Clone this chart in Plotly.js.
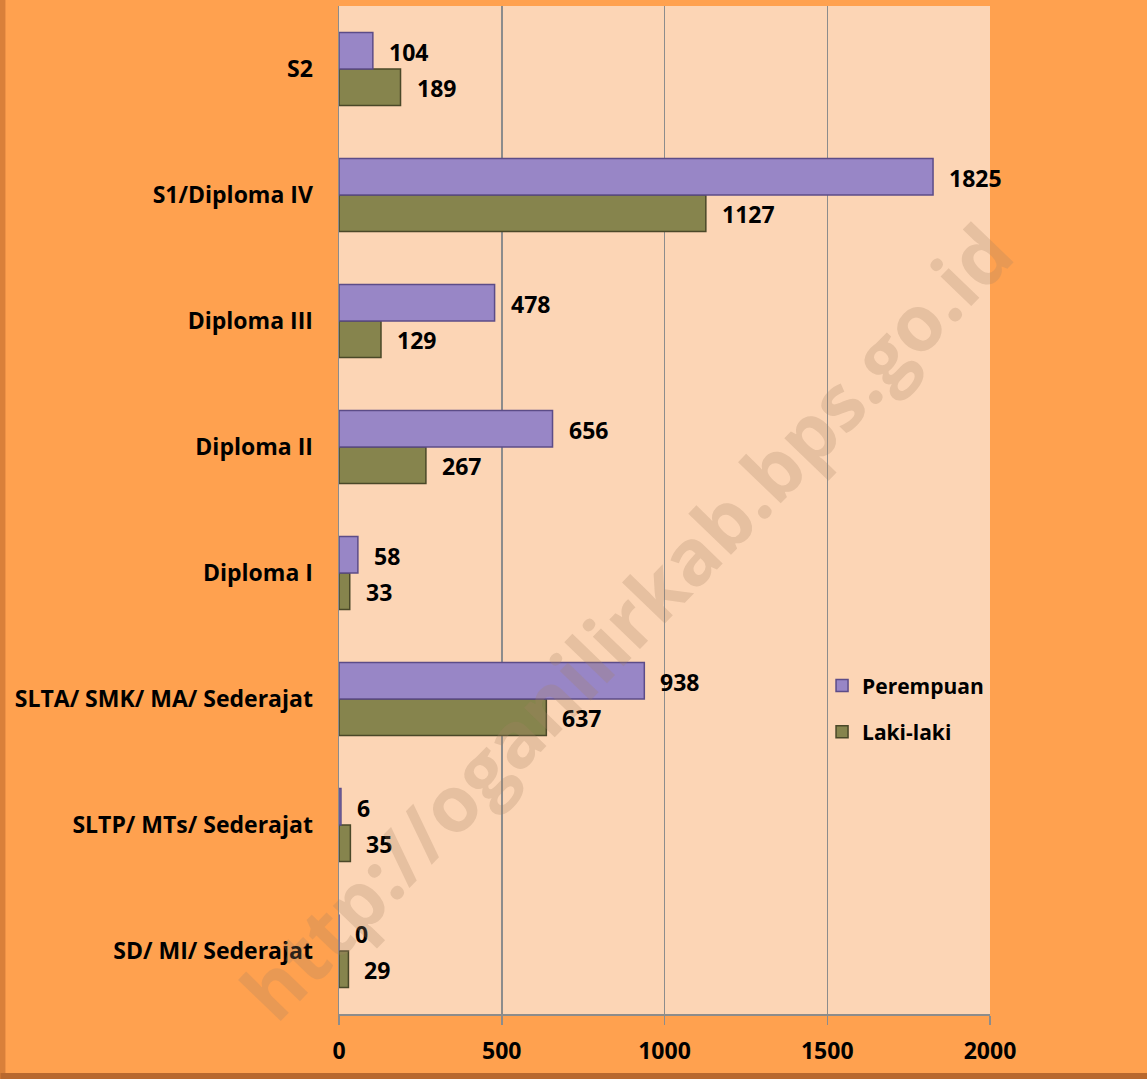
<!DOCTYPE html>
<html>
<head>
<meta charset="utf-8">
<script src="https://cdn.plot.ly/plotly-3.0.1.min.js"></script>
<style>
  html, body { margin: 0; padding: 0; background: #FFA14F; }
  #chart { width: 1147px; height: 1079px; }
</style>
</head>
<body>
<div id="chart"></div>
<script>
// Categories listed bottom to top (Plotly draws horizontal categories upward)
const categories = [
  "SD/ MI/ Sederajat",
  "SLTP/ MTs/ Sederajat",
  "SLTA/ SMK/ MA/ Sederajat",
  "Diploma I",
  "Diploma II",
  "Diploma III",
  "S1/Diploma IV",
  "S2"
];
const perempuan = [0, 6, 938, 58, 656, 478, 1825, 104];
const lakiLaki  = [29, 35, 637, 33, 267, 129, 1127, 189];
const seriesNames = ["Laki-laki", "Perempuan"];
const xTicks = [0, 500, 1000, 1500, 2000];
const watermark = "http://oganilirkab.bps.go.id";

const FONT = "'Open Sans', Lato, 'Liberation Sans', sans-serif";

const traces = [
  {
    type: "bar", orientation: "h", name: seriesNames[0],
    y: categories, x: lakiLaki, legendgroup: "l", legendrank: 2,
    marker: { color: "#86844D", line: { color: "#4A4828", width: 1.5 } },
    hoverinfo: "x+name"
  },
  {
    type: "bar", orientation: "h", name: seriesNames[1],
    y: categories, x: perempuan, legendgroup: "p", legendrank: 1,
    marker: { color: "#9886C6", line: { color: "#5C4C88", width: 1.5 } },
    hoverinfo: "x+name"
  }
];

const annotations = [];
categories.forEach((c, i) => {
  annotations.push({
    x: perempuan[i], y: c, xref: "x", yref: "y",
    text: String(perempuan[i]), showarrow: false,
    xanchor: "left", yanchor: "middle", xshift: 14, yshift: 17,
    font: { family: FONT, size: 23, color: "#000", weight: "bold" }
  });
  annotations.push({
    x: lakiLaki[i], y: c, xref: "x", yref: "y",
    text: String(lakiLaki[i]), showarrow: false,
    xanchor: "left", yanchor: "middle", xshift: 14, yshift: -19,
    font: { family: FONT, size: 23, color: "#000", weight: "bold" }
  });
});
annotations.push({
  x: 0.44, y: 0.39, xref: "paper", yref: "paper",
  text: watermark, showarrow: false, textangle: -46,
  font: { family: FONT, size: 78, color: "rgba(165,130,100,0.26)", weight: "bold" }
});

const layout = {
  width: 1147, height: 1079,
  paper_bgcolor: "#FFA14F",
  plot_bgcolor: "#FCD5B5",
  margin: { l: 339, r: 157, t: 6, b: 65, pad: 0 },
  barmode: "group",
  bargap: 0.42,
  bargroupgap: 0,
  showlegend: true,
  legend: {
    x: 0.742, y: 0.346, xanchor: "left", yanchor: "top",
    traceorder: "grouped",
    bgcolor: "rgba(0,0,0,0)",
    font: { family: FONT, size: 21, color: "#000", weight: "bold" },
    itemwidth: 30, tracegroupgap: 16
  },
  xaxis: {
    range: [0, 2000],
    tickvals: xTicks,
    ticktext: xTicks.map(String),
    showgrid: true, gridcolor: "#8C8C8C", gridwidth: 1.5,
    showline: true, linecolor: "#8C8C8C", linewidth: 1.5,
    ticks: "outside", ticklen: 9, tickcolor: "#8C8C8C", tickwidth: 1.5,
    ticklabelstandoff: 7,
    zeroline: false,
    tickfont: { family: FONT, size: 23, color: "#000", weight: "bold" },
    fixedrange: true
  },
  yaxis: {
    type: "category",
    showgrid: false,
    showline: true, linecolor: "#8C8C8C", linewidth: 1.5,
    ticks: "outside", ticklen: 20, tickcolor: "rgba(0,0,0,0)",
    tickfont: { family: FONT, size: 23, color: "#000", weight: "bold" },
    fixedrange: true
  },
  annotations: annotations,
  shapes: [
    { type: "line", xref: "paper", yref: "paper", x0: -0.517, x1: -0.517, y0: -0.07, y1: 1.01,
      line: { color: "#D9803A", width: 6 } },
    { type: "line", xref: "paper", yref: "paper", x0: -0.52, x1: 1.25, y0: -0.0615, y1: -0.0615,
      line: { color: "#B8682E", width: 6 } }
  ]
};

Plotly.newPlot("chart", traces, layout, { displayModeBar: false, staticPlot: true });
</script>
</body>
</html>
